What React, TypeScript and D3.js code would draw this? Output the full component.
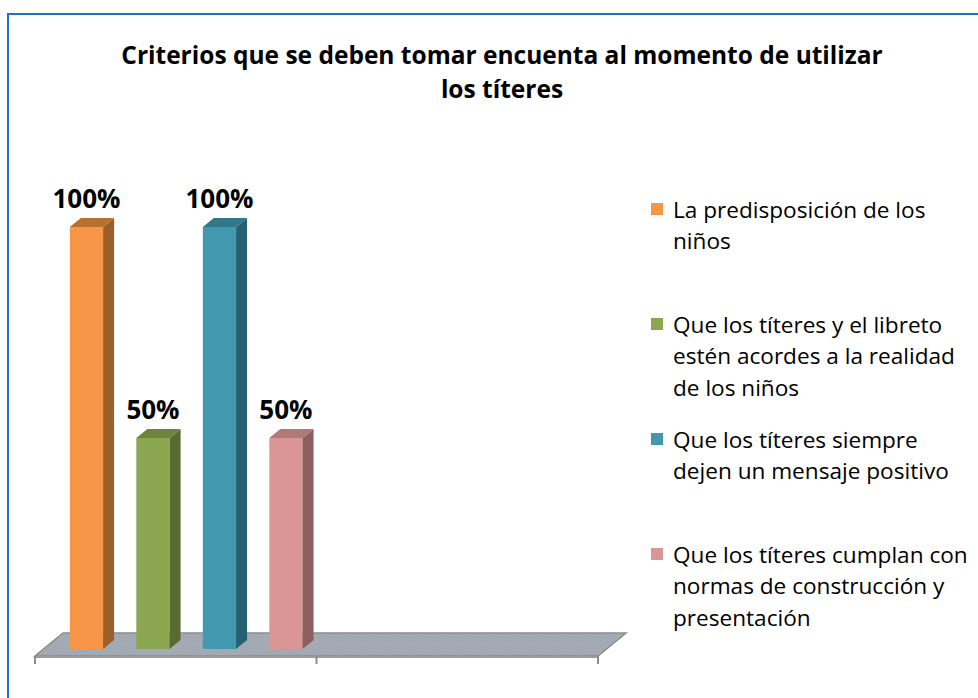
import React from "react";
import * as d3 from "d3";

const categories = ["A", "B"];
const seriesNames = [
  "La predisposición de los niños",
  "Que los títeres y el libreto estén acordes a la realidad de los niños",
  "Que los títeres siempre dejen un mensaje positivo",
  "Que los títeres cumplan con normas de construcción y presentación",
];
const seriesValues = [100, 50, 100, 50];
const valueLabels = ["100%", "50%", "100%", "50%"];
const legendLines = [
  ["La predisposición de los", "niños"],
  ["Que los títeres y el libreto", "estén acordes a la realidad", "de los niños"],
  ["Que los títeres siempre", "dejen un mensaje positivo"],
  ["Que los títeres cumplan con", "normas de construcción y", "presentación"],
];
const frontColors = ["#F79646", "#8BA650", "#4198AF", "#D99694"];
const sideColors = ["#9B5F2B", "#5A6B31", "#276171", "#8C5E5D"];
const topColors = ["#B8702F", "#6E843D", "#33788A", "#B07A79"];
const titleLines = [
  "Criterios que se deben tomar encuenta al momento de utilizar",
  "los títeres",
];

const W = 978;
const H = 698;
const FONT = "'Open Sans', sans-serif";

export default function App() {
  const floorDx = 28, floorDy = 23;
  const barDx = 11, barDy = 9;
  const y = d3.scaleLinear().domain([0, 100]).range([649, 227]);
  const frontY = y(0) + (floorDy - barDy) / 2;
  const x0 = d3.scaleBand<string>().domain(categories).range([35, 598]).padding(0);
  const x1 = d3
    .scaleBand<number>()
    .domain(seriesValues.map((_, i) => i))
    .range([0, x0.bandwidth()])
    .paddingInner(0.5)
    .paddingOuter(0.367)
    .align(0.54);
  const shiftX = (floorDx - barDx) / 2;
  const [xa, xb] = x0.range();
  const floorPts = [
    [xa, frontY],
    [xb, frontY],
    [xb + floorDx, frontY - floorDy],
    [xa + floorDx, frontY - floorDy],
  ];
  const ticks = [...categories.map((c) => x0(c) as number), xb];

  const legendY = d3.scaleLinear().domain([0, 1]).range([210, 325]);

  return (
    <svg
      width={W}
      height={H}
      style={{ position: "absolute", left: 0, top: 0, background: "#fff" }}
    >
      <defs>
        <pattern id="hatch" width="3" height="3" patternUnits="userSpaceOnUse">
          <rect width="3" height="3" fill="#AAB1BA" />
          <path d="M0,3 L3,0" stroke="#8F979F" strokeWidth="0.8" />
        </pattern>
      </defs>
      <rect x={8} y={14} width={1200} height={1200} fill="none" stroke="#1A73C6" strokeWidth={2} />
      {titleLines.map((t, i) => (
        <text
          key={i}
          x={502}
          y={64 + i * 34}
          textAnchor="middle"
          fontFamily={FONT}
          fontWeight="bold"
          fontSize={24.5}
          fill="#000"
        >
          {t}
        </text>
      ))}
      {/* floor */}
      <polygon
        points={floorPts.map((p) => p.join(",")).join(" ")}
        fill="url(#hatch)"
        stroke="#8C8C8C"
        strokeWidth={1.5}
      />
      <line x1={xa} x2={xb} y1={frontY + 1} y2={frontY + 1} stroke="#9A9A9A" strokeWidth={2} />
      {ticks.map((t, i) => (
        <line key={i} x1={t} x2={t} y1={frontY} y2={frontY + 8} stroke="#8C8C8C" strokeWidth={2} />
      ))}
      {/* bars */}
      {seriesValues.map((v, i) => {
        const bx = (x0(categories[0]) as number) + (x1(i) as number) + shiftX;
        const bw = x1.bandwidth();
        const top = y(v);
        const bottom = y(0);
        return (
          <g key={i}>
            <rect x={bx} y={top} width={bw} height={bottom - top} fill={frontColors[i]} />
            <polygon
              points={`${bx + bw},${top} ${bx + bw + barDx},${top - barDy} ${bx + bw + barDx},${bottom - barDy} ${bx + bw},${bottom}`}
              fill={sideColors[i]}
            />
            <polygon
              points={`${bx},${top} ${bx + barDx},${top - barDy} ${bx + bw + barDx},${top - barDy} ${bx + bw},${top}`}
              fill={topColors[i]}
            />
            <text
              x={bx + bw / 2}
              y={top - 19}
              textAnchor="middle"
              fontFamily={FONT}
              fontWeight="bold"
              fontSize={26}
              fill="#000"
            >
              {valueLabels[i]}
            </text>
          </g>
        );
      })}
      {/* legend */}
      {seriesNames.map((name, i) => {
        const cy = legendY(i);
        return (
          <g key={name}>
            <rect x={651} y={cy - 7} width={12} height={12} fill={frontColors[i]} />
            {legendLines[i].map((ln, j) => (
              <text
                key={j}
                x={673}
                y={cy + j * 31.5}
                dy="0.35em"
                fontFamily={FONT}
                fontSize={22.6}
                fill="#000"
              >
                {ln}
              </text>
            ))}
          </g>
        );
      })}
    </svg>
  );
}
